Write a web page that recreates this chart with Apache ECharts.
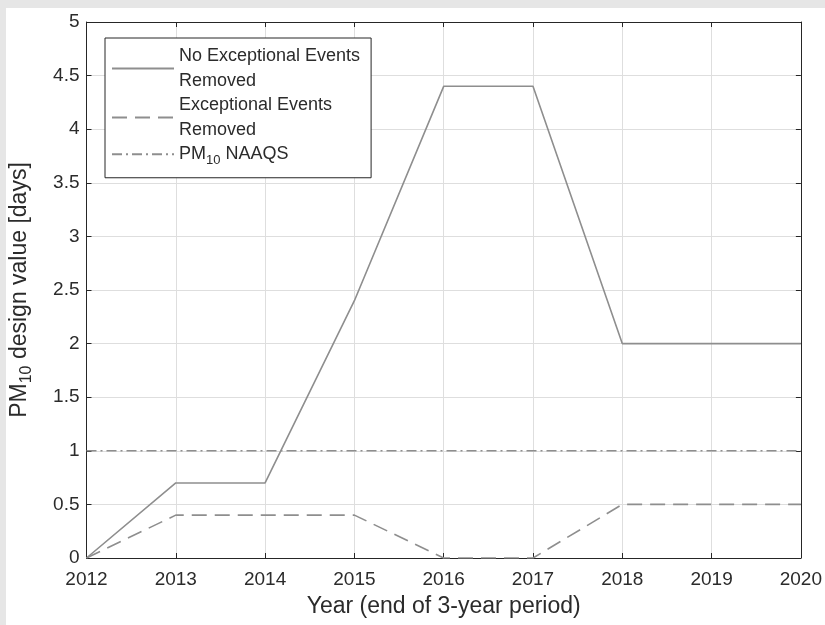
<!DOCTYPE html>
<html><head><meta charset="utf-8">
<script src="https://cdn.jsdelivr.net/npm/echarts@6/dist/echarts.min.js"></script>
<style>
html,body{margin:0;padding:0;background:#e6e6e6;}
#wrap{position:absolute;left:6px;top:8px;width:819px;height:617px;background:#fff;}
#chart{position:absolute;left:-6px;top:-8px;width:825px;height:625px;}
</style></head>
<body><div id="wrap"><div id="chart"></div></div>
<script>
const years = [2012, 2013, 2014, 2015, 2016, 2017, 2018, 2019, 2020];
const noEERemoved = [0, 0.7, 0.7, 2.4, 4.4, 4.4, 2.0, 2.0, 2.0];
const eeRemoved = [0, 0.4, 0.4, 0.4, 0, 0, 0.5, 0.5, 0.5];
const naaqs = [1, 1, 1, 1, 1, 1, 1, 1, 1];
const seriesNames = ['No Exceptional Events\nRemoved', 'Exceptional Events\nRemoved', 'PM{sub|10} NAAQS'];

const FONT = '"Liberation Sans", Arial, sans-serif';
const LINE = '#8e8e8e';
const AX = '#262626';
const TXT = '#2b2b2b';
const pairs = arr => years.map((y, i) => [y, arr[i]]);

const chart = echarts.init(document.getElementById('chart'), null, {renderer: 'canvas'});
const axisCommon = {
  axisLine: {show: true, onZero: false, lineStyle: {color: AX, width: 1}},
  axisTick: {show: true, inside: true, length: 5, lineStyle: {color: AX}},
};
chart.setOption({
  backgroundColor: 'transparent',
  animation: false,
  grid: {left: 86, right: 22, top: 22, bottom: 67, containLabel: false},
  legend: {
    orient: 'vertical', left: 105, top: 38,
    data: seriesNames,
    itemWidth: 62, itemHeight: 14, itemGap: 0,
    padding: [6, 11, 11, 6],
    borderColor: '#262626', borderWidth: 1, backgroundColor: '#fff',
    itemStyle: {opacity: 0},
    textStyle: {fontFamily: FONT, fontSize: 18, color: TXT, lineHeight: 24.5,
      rich: {sub: {fontSize: 13, padding: [12, 0, 0, 0], fontFamily: FONT, color: TXT}}},
    selectedMode: false
  },
  xAxis: [
    Object.assign({
      type: 'value', min: 2012, max: 2020, interval: 1, position: 'bottom',
      name: 'Year (end of 3-year period)', nameLocation: 'middle', nameGap: 37,
      nameTextStyle: {fontFamily: FONT, fontSize: 23, color: TXT},
      axisLabel: {fontFamily: FONT, fontSize: 19, color: TXT, margin: 12, formatter: v => String(v)},
      splitLine: {show: true, lineStyle: {color: '#dedede', width: 1}}
    }, axisCommon),
    Object.assign({
      type: 'value', min: 2012, max: 2020, interval: 1, position: 'top',
      axisLabel: {show: false}, splitLine: {show: false}
    }, axisCommon)
  ],
  yAxis: [
    Object.assign({
      type: 'value', min: 0, max: 5, interval: 0.5, position: 'left',
      name: 'PM{sub|10} design value [days]', nameLocation: 'middle', nameGap: 52, nameRotate: 90,
      nameTextStyle: {fontFamily: FONT, fontSize: 23, color: TXT,
        rich: {sub: {fontSize: 16, padding: [14, 0, 0, 0], fontFamily: FONT, color: TXT}}},
      axisLabel: {fontFamily: FONT, fontSize: 19, color: TXT, margin: 7},
      splitLine: {show: true, lineStyle: {color: '#dedede', width: 1}}
    }, axisCommon),
    Object.assign({
      type: 'value', min: 0, max: 5, interval: 0.5, position: 'right',
      axisLabel: {show: false}, splitLine: {show: false}
    }, axisCommon)
  ],
  series: [
    {name: seriesNames[0], type: 'line', data: pairs(noEERemoved), symbol: 'none',
     itemStyle: {color: LINE}, lineStyle: {color: LINE, width: 1.6, type: 'solid'}},
    {name: seriesNames[1], type: 'line', data: pairs(eeRemoved), symbol: 'none',
     itemStyle: {color: LINE}, lineStyle: {color: LINE, width: 1.6, type: [15, 8]}},
    {name: seriesNames[2], type: 'line', data: pairs(naaqs), symbol: 'none',
     itemStyle: {color: LINE}, lineStyle: {color: LINE, width: 1.4, type: [10, 4, 2, 4]}}
  ]
});
</script></body></html>
